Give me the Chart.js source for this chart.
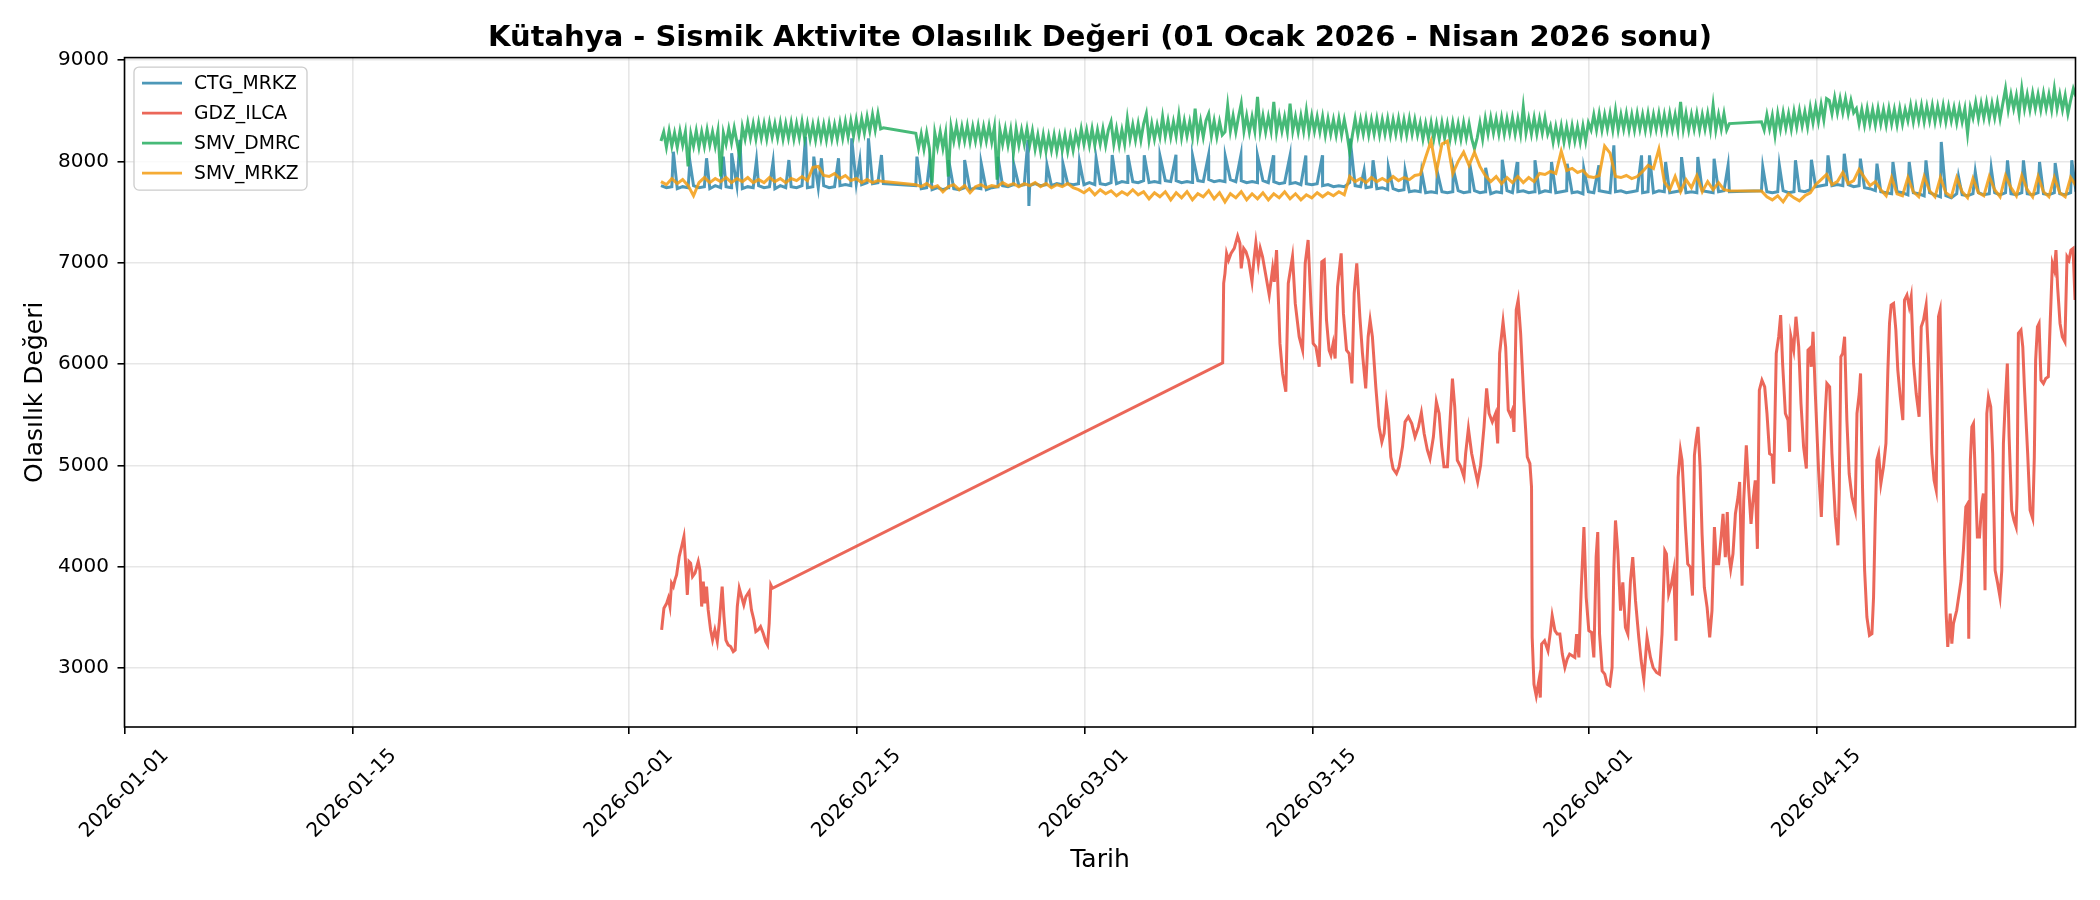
<!DOCTYPE html>
<html><head><meta charset="utf-8">
<script src="https://cdn.jsdelivr.net/npm/chart.js@4.4.1/dist/chart.umd.min.js"></script>
<style>html,body{margin:0;padding:0;background:#fff;}#wrap{width:2100px;height:900px;}</style>
</head><body><div id="wrap"><canvas id="c" width="2100" height="900"></canvas></div>
<script>
// ---------- DATA ----------
const seriesNames = ['CTG_MRKZ', 'GDZ_ILCA', 'SMV_DMRC', 'SMV_MRKZ'];
const titleText = 'Kütahya - Sismik Aktivite Olasılık Değeri (01 Ocak 2026 - Nisan 2026 sonu)';
const xTitle = 'Tarih';
const yTitle = 'Olasılık Değeri';
// x positions are days after 2026-01-01 00:00
const tickDays = [0, 14, 31, 45, 59, 73, 90, 104];
const tickLabels = ['2026-01-01', '2026-01-15', '2026-02-01', '2026-02-15', '2026-03-01', '2026-03-15', '2026-04-01', '2026-04-15'];
const yTicks = [3000, 4000, 5000, 6000, 7000, 8000, 9000];

// start day of each recorded block of the three upper stations
const upperSegStarts = [32.97, 48.63, 100.6];
const sampleStep = 1 / 3;     // CTG_MRKZ / SMV_MRKZ readings
const dmrcStep = 1 / 6;       // SMV_DMRC readings

const ctgSeg1 = [7760,7740,7750,7730,7750,7740,7760,7740,7750,7730,7760,7740,7750,7740,7760,7730,7750,7740,7760,7740,7750,7730,7760,7740,7750,7740,7760,7740,7750,7740,7760,7740,7750,7760,7770,7760,7780,7770,7790,7780,7790,7780];
const ctgSeg2 = [7760,7730,7740,7720,7740,7720,7740,7730,7720,7740,
  7720,7740,7730,7720,7740,7750,7760,7750,7770,7760,
  7770,7760,7780,7760,7770,7760,7780,7770,7780,7770,
  7780,7770,7790,7770,7780,7770,7790,7780,7800,7790,
  7800,7790,7810,7790,7800,7790,7810,7800,7810,7790,
  7800,7790,7810,7800,7820,7800,7810,7800,7820,7800,
  7810,7790,7800,7790,7810,7790,7800,7780,7790,7780,
  7790,7770,7780,7770,7780,7760,7770,7750,7760,7750,
  7790,7760,7750,7740,7750,7730,7740,7720,7730,7710,
  7720,7700,7710,7700,7690,7700,7690,7700,7690,7700,
  7710,7690,7700,7710,7690,7700,7680,7700,7690,7710,
  7690,7700,7710,7690,7700,7690,7710,7700,7690,7700,
  7710,7690,7700,7680,7700,7690,7710,7700,7690,7700,
  7710,7690,7700,7710,7690,7700,7690,7710,7700,7690,
  7700,7710,7690,7700,7690,7710,7700,7690,7700,7710,7700];
const ctgSeg3 = [7710,7700,7690,7700,7710,7690,7700,7710,7700,7720,
  7750,7760,7770,7760,7770,7760,7770,7750,7760,7740,
  7730,7710,7700,7690,7680,7700,7690,7670,7690,7680,
  7660,7690,7670,7650,7660,7640,7680,7670,7660,7680,
  7690,7670,7680,7690,7670,7690,7680,7670,7690,7680,
  7670,7690,7680,7670,7690,7680,7670,7690,7700];
const ctgSpikeDays = [33.73,34.75,35.77,36.80,37.31,37.82,38.84,39.86,40.83,41.85,42.36,42.83,43.88,44.69,45.19,45.72,46.52,
  48.70,49.48,50.65,51.63,52.65,53.68,54.64,55.52,55.58,56.69,57.67,58.69,59.71,60.70,61.66,
  62.67,63.64,64.62,65.64,66.62,67.65,68.61,69.63,70.61,71.62,72.60,73.62,
  75.32,76.18,76.73,77.67,78.70,79.72,80.68,81.66,82.67,83.65,84.67,85.59,86.68,87.70,88.66,89.68,90.61,
  91.53,93.23,93.72,94.71,95.69,96.69,97.69,98.55,
  100.68,101.70,102.69,103.67,104.69,105.69,106.68,107.70,108.68,109.68,110.71,111.65,112.71,113.74,114.72,115.72,116.70,117.69,118.65,119.67];
const ctgSpikeVals = [8095,7997,8030,8046,8079,8211,8013,7997,8013,8243,8046,8030,8030,8227,8013,8227,8062,
  8046,7997,8013,8013,7980,8046,7980,8211,7560,7964,7980,7997,8030,8062,8062,
  8059,8050,8065,8055,8060,8050,8062,8055,8060,8050,8058,8060,
  8224,7911,8010,7944,7911,7895,7895,7928,7977,7937,8016,7993,8010,7993,7977,7928,7961,
  8158,8059,8059,7993,8042,8042,8026,7961,
  7944,7961,8010,8016,8059,8075,8026,7977,7993,7993,8010,8191,7849,7898,7931,8010,8010,7993,7984,8010];

const dmrcSeg1 = [8200,8290,8140,8300,8150,8280, 8140,8300,8160,8290,7950,8270,
  8150,8300,8140,8290,8150,8310, 8160,8290,8150,8300,7850,8280,
  8170,8320,8180,8330,8190,8050, 8340,8220,8380,8230,8370,8220,
  8380,8230,8370,8220,8380,8240, 8370,8230,8380,8220,8370,8230,
  8380,8220,8370,8230,8390,8220, 8370,8220,8360,8210,8370,8220,
  8360,8210,8370,8220,8360,8220, 8380,8230,8390,8240,8400,8250,
  8410,8260,8420,8280,8440,8300, 8460,8310,8470,8320,8330];
const dmrcSeg2 = [8276,8130,8270,8120,8280,8130, 7790,8280,8140,8290,8130,8280,
  7850,8340,8200,8350,8190,8340, 8200,8350,8190,8340,8200,8350,
  8190,8340,8200,8350,8190,8340, 7820,8310,8170,8320,8160,8310,
  8080,8320,8160,8310,8170,8320, 8160,8300,8120,8260,8100,8260,
  8100,8250,8110,8260,8100,8250, 8110,8260,8100,8250,8110,8270,
  8160,8320,8170,8310,8160,8320, 8160,8310,8170,8320,8160,8310,
  8390,8170,8320,8160,8310,8170, 8420,8220,8360,8210,8370,8210,
  8370,8470,8210,8370,8220,8360, 8240,8440,8250,8400,8240,8390,
  8250,8455,8240,8400,8250,8390, 8240,8520,8250,8400,8240,8400,
  8470,8250,8400,8240,8390,8260, 8290,8550,8300,8450,8290,8440,
  8570,8300,8450,8290,8440,8300, 8635,8300,8450,8290,8440,8300,
  8585,8290,8450,8300,8440,8290, 8570,8300,8440,8290,8450,8300,
  8500,8290,8450,8300,8440,8290, 8440,8260,8420,8270,8410,8260,
  8420,8260,8410,8270,8090,8260, 8420,8260,8410,8270,8420,8260,
  8410,8270,8420,8260,8410,8270, 8420,8260,8410,8270,8420,8260,
  8410,8260,8420,8270,8410,8260, 8380,8220,8370,8230,8380,8220,
  8370,8220,8380,8230,8370,8220, 8380,8230,8370,8220,8380,8230,
  8370,8220,8125,8230,8380,8220, 8420,8270,8430,8280,8420,8270,
  8430,8270,8420,8280,8430,8270, 8420,8270,8536,8280,8420,8270,
  8430,8270,8420,8280,8430,8270, 8350,8190,8340,8200,8350,8190,
  8340,8190,8350,8200,8340,8190, 8350,8200,8380,8310,8460,8310,
  8470,8310,8460,8320,8470,8310, 8503,8310,8460,8320,8470,8310,
  8460,8310,8470,8320,8460,8310, 8470,8310,8460,8320,8470,8310,
  8460,8310,8470,8320,8460,8310, 8586,8320,8470,8310,8460,8320,
  8470,8310,8460,8320,8470,8310, 8553,8310,8460,8320,8470,8310,
  8372];
const dmrcSeg3 = [8390,8310,8460,8320,8450,8257, 8470,8320,8480,8330,8470,8320,
  8490,8340,8500,8350,8490,8340, 8530,8380,8540,8390,8560,8410,
  8619,8600,8470,8630,8480,8620, 8480,8619,8470,8600,8480,8520,
  8370,8510,8360,8520,8370,8510, 8360,8520,8370,8510,8360,8520,
  8370,8510,8360,8520,8370,8510, 8400,8550,8390,8540,8400,8550,
  8390,8540,8400,8550,8390,8540, 8400,8550,8390,8540,8400,8530,
  8380,8530,8390,8520,8273,8530, 8430,8580,8420,8570,8430,8580,
  8420,8570,8430,8580,8420,8570, 8717,8510,8660,8520,8650,8470,
  8717,8520,8660,8510,8670,8520, 8660,8510,8670,8520,8660,8510,
  8717,8520,8660,8510,8650,8470, 8600,8717,8640];

const smvSeg1 = [7800,7770,7830,7780,7820,7760,7660,7790,7840,7790,7830,7800,7840,7790,7830,7800,7840,7790,7820,7790,7840,7800,7830,7790,7830,7810,7850,7810,7940,7950,7860,7850,7880,7830,7860,7810,7830,7790,7820,7790,7810,7800];
const smvSeg2 = [7770,7750,7780,7740,7760,7700,7750,7770,7720,7760,
  7690,7750,7770,7740,7760,7750,7790,7760,7780,7750,
  7780,7760,7790,7750,7780,7740,7770,7750,7780,7740,
  7720,7690,7730,7670,7720,7680,7710,7660,7700,7670,
  7720,7670,7700,7630,7690,7650,7700,7620,7690,7640,
  7700,7620,7680,7650,7710,7630,7690,7600,7680,7640,
  7700,7620,7680,7630,7690,7620,7680,7640,7700,7630,
  7680,7620,7670,7640,7690,7650,7690,7660,7700,7670,
  7850,7800,7830,7790,7840,7800,7830,7800,7850,7810,
  7840,7820,7860,7870,8040,8200,7900,8170,8200,7880,
  8000,8090,7960,8090,7950,7860,7800,7850,7780,7840,
  7790,7850,7790,7840,7800,7880,7870,7900,7880,8100,
  7910,7930,7890,7910,7850,7840,7860,8150,8080,7850,
  7840,7860,7830,7850,7900,7960,7930,8120,7800,7720,
  7850,7700,7820,7740,7860,7700,7800,7720,7790,7720,7710];
const smvSeg3 = [7707,7650,7620,7660,7600,7680,7640,7610,7660,7690,
  7770,7820,7870,7770,7800,7890,7780,7810,7920,7840,
  7760,7800,7720,7660,7840,7680,7660,7840,7700,7650,
  7850,7710,7650,7840,7690,7650,7840,7700,7640,7830,
  7690,7660,7850,7720,7650,7860,7740,7660,7860,7720,
  7650,7850,7700,7650,7840,7690,7650,7840,7760];

const gdzDays = [33.01,33.15,33.32,33.42,33.52,33.62,33.73,33.83,33.93,34.09,
  34.24,34.38,34.46,34.59,34.69,34.79,34.91,35.06,35.26,35.36,
  35.47,35.57,35.67,35.77,35.87,36.02,36.14,36.28,36.43,36.55,
  36.73,36.84,36.96,37.10,37.25,37.41,37.53,37.66,37.78,37.92,
  38.06,38.19,38.39,38.53,38.68,38.80,38.94,39.09,39.25,39.41,
  39.52,39.62,39.72,39.82,
  67.49,67.55,67.63,67.73,67.85,68.00,68.20,68.41,68.55,68.63,
  68.78,68.92,69.08,69.29,69.39,69.53,69.68,69.80,69.94,70.19,
  70.35,70.56,70.66,70.80,70.92,71.01,71.17,71.37,71.52,71.78,
  71.95,72.19,72.40,72.56,72.74,72.91,73.05,73.22,73.42,73.58,
  73.73,73.87,74.03,74.14,74.28,74.40,74.55,74.77,74.91,75.10,
  75.26,75.43,75.57,75.73,75.92,76.08,76.28,76.43,76.55,76.69,
  76.90,77.10,77.27,77.41,77.55,77.68,77.82,77.96,78.17,78.33,
  78.54,78.70,78.90,79.11,79.31,79.52,79.70,79.87,80.07,80.23,
  80.44,80.62,80.79,80.95,81.09,81.30,81.44,81.61,81.75,81.91,
  82.12,82.32,82.42,82.59,82.79,82.96,83.16,83.34,83.55,83.71,
  83.86,84.06,84.26,84.39,84.51,84.72,84.88,
  85.04,85.18,85.29,85.39,85.53,85.65,85.80,86.00,86.21,86.37,
  86.47,86.51,86.62,86.76,86.92,87.01,87.09,87.27,87.48,87.64,
  87.74,87.91,88.05,88.21,88.36,88.52,88.66,88.81,88.97,89.13,
  89.24,89.38,89.52,89.69,89.83,89.99,90.16,90.30,90.44,90.54,
  90.65,90.81,90.97,91.12,91.28,91.42,91.53,91.63,91.77,91.94,
  92.08,92.24,92.39,92.55,92.69,92.86,93.06,93.21,93.37,93.57,
  93.78,93.94,94.15,94.33,94.49,94.66,94.76,94.90,95.07,95.21,
  95.35,95.48,95.62,95.72,95.93,96.07,96.23,96.36,96.48,96.58,
  96.70,96.83,96.95,97.09,97.26,97.42,97.56,97.71,97.83,97.97,
  98.14,98.24,98.38,98.50,98.59,98.71,98.85,99.00,99.16,99.26,
  99.41,99.51,99.67,99.81,99.96,100.08,100.22,100.35,100.47,100.63,
  100.80,100.94,101.10,101.25,101.35,101.51,101.66,
  101.78,101.90,102.07,102.23,102.33,102.41,102.58,102.72,102.89,103.03,
  103.19,103.36,103.46,103.56,103.66,103.77,103.91,104.11,104.28,104.42,
  104.52,104.62,104.79,104.93,105.14,105.30,105.38,105.48,105.59,105.71,
  105.85,105.99,106.16,106.36,106.47,106.61,106.69,106.81,106.94,107.08,
  107.24,107.39,107.49,107.59,107.69,107.80,107.94,108.10,108.25,108.37,
  108.47,108.57,108.72,108.86,108.98,109.13,109.29,109.39,109.54,109.68,
  109.80,109.95,110.11,110.29,110.42,110.56,110.72,110.87,111.07,111.21,
  111.34,111.48,111.58,111.68,111.85,111.95,112.05,112.20,112.30,112.40,
  112.60,112.87,113.01,113.16,113.28,113.34,113.44,113.53,113.63,113.73,
  113.87,114.00,114.14,114.24,114.34,114.45,114.55,114.69,114.81,114.96,
  115.12,115.26,115.37,115.47,115.57,115.71,115.82,115.98,116.12,116.25,
  116.31,116.39,116.55,116.66,116.76,116.96,117.11,117.27,117.37,117.45,
  117.56,117.66,117.78,117.93,118.07,118.23,118.35,118.48,118.60,118.70,
  118.80,118.95,119.09,119.25,119.38,119.50,119.62,119.75,119.87];
const gdzVals = [3378,3592,3641,3691,3609,3839,3806,3872,3921,4102,
  4201,4299,4102,3724,4053,4036,3905,3938,4053,3970,
  3609,3855,3641,3806,3576,3378,3279,3378,3263,3444,
  3806,3510,3279,3230,3214,3164,3181,3609,3789,3707,
  3625,3707,3757,3576,3477,3362,3378,3411,3345,3263,
  3230,3444,3822,3789,
  6013,6796,6895,7092,7026,7092,7141,7263,7191,6944,
  7141,7108,7026,6812,6993,7197,6993,7141,7059,6829,
  6681,6944,6812,7125,6605,6204,5908,5727,6796,7059,
  6599,6270,6138,6993,7224,6605,6204,6171,5974,7010,
  7026,6434,6138,6089,6204,6056,6763,7092,6500,6138,
  6105,5809,6697,6993,6467,6105,5760,6270,6434,6270,
  5776,5381,5233,5316,5612,5447,5085,4970,4921,4987,
  5184,5431,5480,5414,5283,5381,5520,5316,5151,5069,
  5283,5628,5513,5184,4987,4987,5381,5858,5579,5052,
  4987,4888,5118,5365,5118,4987,4839,5003,5381,5760,
  5513,5431,5513,5217,6105,6418,6171,
  5545,5496,5545,5331,6534,6632,6303,5644,5084,5018,
  4787,3305,2843,2728,2876,2712,3239,3272,3173,3371,
  3519,3371,3338,3338,3140,3008,3091,3140,3124,3107,
  3338,3107,3766,4392,3700,3371,3354,3107,4096,4343,
  3338,2975,2942,2843,2827,3008,3997,4458,4161,3568,
  3848,3404,3338,3865,4096,3667,3305,3074,2893,3305,
  3107,3008,2959,2942,3338,4161,4129,3733,3832,3964,
  3272,4886,5150,5051,4392,4030,3997,3717,5100,5249,
  5381,4985,4326,3799,3601,3305,3568,4392,4030,4030,
  4326,4524,4096,4540,4129,3980,4129,4524,4689,4837,
  3815,4656,5199,4787,4425,4656,4853,4178,5743,5842,
  5776,5512,5117,5100,4820,6105,6270,
  6483,6006,5513,5447,5135,6270,6138,6467,6171,5612,
  5184,4970,6138,6154,5974,6319,5710,4954,4493,5118,
  5513,5809,5776,5118,4493,4213,4724,6072,6105,6270,
  5447,4921,4690,4559,5513,5710,5908,4789,3967,3506,
  3325,3341,3703,4460,5052,5118,4822,4987,5217,5941,
  6401,6582,6599,6335,5941,5677,5447,6632,6681,6566,
  6665,6006,5710,5480,6368,6434,6582,6039,5118,4855,
  4756,6467,6533,5776,4131,3539,3210,3539,3243,3441,
  3572,3868,4164,4592,4625,3292,5052,5381,5414,4954,
  4296,4296,4625,4724,3769,5513,5677,5579,5118,3967,
  3835,3703,3967,5217,5579,6006,5283,4559,4460,4394,
  4724,6303,6335,6171,5776,5118,4559,4477,5085,6039,
  6368,6401,5842,5809,5858,5875,6434,6993,6928,7125,
  6763,6401,6270,6220,7059,7026,7125,7141,6632];

// ---------- BUILD POINTS ----------
function segPoints(segs, step) {
  const pts = [];
  segs.forEach((vals, s) => vals.forEach((v, i) => pts.push({x: upperSegStarts[s] + i * step, y: v})));
  return pts;
}
const ctgPts = segPoints([ctgSeg1, ctgSeg2, ctgSeg3], sampleStep)
  .concat(ctgSpikeDays.map((d, i) => ({x: d, y: ctgSpikeVals[i]})))
  .sort((a, b) => a.x - b.x);
const dmrcPts = segPoints([dmrcSeg1, dmrcSeg2, dmrcSeg3], dmrcStep);
const smvPts = segPoints([smvSeg1, smvSeg2, smvSeg3], sampleStep);
const gdzPts = gdzDays.map((d, i) => ({x: d, y: gdzVals[i]}));

const colors = ['rgba(46,134,171,0.85)', 'rgba(231,76,60,0.85)', 'rgba(39,174,96,0.85)', 'rgba(243,156,18,0.85)'];
const allPts = [ctgPts, gdzPts, dmrcPts, smvPts];
const LW = 3;

Chart.defaults.font.family = '"DejaVu Sans", sans-serif';
Chart.defaults.color = '#000';

const decor = {
  id: 'decor',
  afterDatasetsDraw(chart) {
    const {ctx, chartArea: a} = chart;
    ctx.save();
    ctx.strokeStyle = '#000';
    ctx.lineWidth = 1.6;
    ctx.strokeRect(a.left, a.top, a.right - a.left, a.bottom - a.top);
    // legend
    const lx = a.left + 9.5, ly = a.top + 9.5, lw = 173, lh = 123, r = 5;
    ctx.beginPath();
    ctx.moveTo(lx + r, ly);
    ctx.arcTo(lx + lw, ly, lx + lw, ly + lh, r);
    ctx.arcTo(lx + lw, ly + lh, lx, ly + lh, r);
    ctx.arcTo(lx, ly + lh, lx, ly, r);
    ctx.arcTo(lx, ly, lx + lw, ly, r);
    ctx.closePath();
    ctx.fillStyle = 'rgba(255,255,255,0.8)';
    ctx.fill();
    ctx.strokeStyle = '#cccccc';
    ctx.lineWidth = 1.3;
    ctx.stroke();
    ctx.font = '18.75px "DejaVu Sans"';
    ctx.textBaseline = 'middle';
    ctx.textAlign = 'left';
    seriesNames.forEach((n, i) => {
      const y = ly + 16 + i * 30;
      ctx.strokeStyle = colors[i];
      ctx.lineWidth = 2.8;
      ctx.beginPath();
      ctx.moveTo(lx + 8, y);
      ctx.lineTo(lx + 48, y);
      ctx.stroke();
      ctx.fillStyle = '#000';
      ctx.fillText(n, lx + 60, y + 1);
    });
    // title
    ctx.font = 'bold 29px "DejaVu Sans"';
    ctx.textAlign = 'center';
    ctx.textBaseline = 'middle';
    ctx.fillStyle = '#000';
    ctx.fillText(titleText, (a.left + a.right) / 2, 38);
    ctx.restore();
  }
};

new Chart(document.getElementById('c'), {
  type: 'line',
  data: {
    datasets: seriesNames.map((n, i) => ({
      label: n,
      data: allPts[i],
      borderColor: colors[i],
      backgroundColor: colors[i],
      borderWidth: LW,
      pointRadius: 0,
      tension: 0,
      fill: false,
      order: 4 - i
    }))
  },
  options: {
    responsive: false,
    animation: false,
    devicePixelRatio: 1,
    layout: {padding: {top: 57.6, right: 24.5, bottom: 0, left: 0}},
    plugins: {legend: {display: false}, tooltip: {enabled: false}, title: {display: false}},
    scales: {
      x: {
        type: 'linear', min: 0, max: 119.9,
        afterBuildTicks: s => { s.ticks = tickDays.map(v => ({value: v})); },
        afterFit: s => { s.height = 173; },
        ticks: {
          autoSkip: false, minRotation: 45, maxRotation: 45, padding: 10, labelOffset: 41,
          font: {size: 20}, color: '#000',
          callback: v => { const k = tickDays.indexOf(v); return k >= 0 ? tickLabels[k] : ''; }
        },
        grid: {color: 'rgba(176,176,176,0.3)', lineWidth: 1.6, drawTicks: true, tickLength: 7, tickColor: '#000', tickWidth: 1.6},
        border: {display: false},
        title: {display: true, text: xTitle, font: {size: 25, lineHeight: 1.2}, color: '#000', padding: {top: 0, bottom: 25}}
      },
      y: {
        type: 'linear', min: 2421, max: 9023,
        afterBuildTicks: s => { s.ticks = yTicks.map(v => ({value: v})); },
        afterFit: s => { s.width = 124.5; },
        ticks: {padding: 8.5, font: {size: 20}, color: '#000', callback: v => String(v)},
        grid: {color: 'rgba(176,176,176,0.3)', lineWidth: 1.6, drawTicks: true, tickLength: 7, tickColor: '#000', tickWidth: 1.6},
        border: {display: false},
        title: {display: true, text: yTitle, font: {size: 25, lineHeight: 1.2}, color: '#000', padding: {top: 20, bottom: 0}}
      }
    }
  },
  plugins: [decor]
});
</script>
</body></html>
